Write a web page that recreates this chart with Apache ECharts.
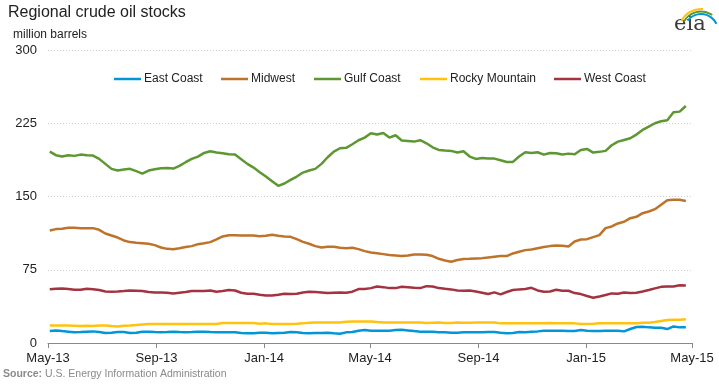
<!DOCTYPE html>
<html>
<head>
<meta charset="utf-8">
<script src="https://cdn.jsdelivr.net/npm/echarts@6/dist/echarts.min.js"></script>
<style>
html,body{margin:0;padding:0;background:#fff;}
#chart{width:719px;height:385px;}
</style>
</head>
<body>
<div id="chart"></div>
<script>
// ---- data ----
var seriesNames = ['East Coast', 'Midwest', 'Gulf Coast', 'Rocky Mountain', 'West Coast'];
var firstWeek = '2013-05-03'; // weekly observations (Fridays)
var tickDates = ['2013-05-01', '2013-09-01', '2014-01-01', '2014-05-01', '2014-09-01', '2015-01-01', '2015-05-01'];
var tickLabels = ['May-13', 'Sep-13', 'Jan-14', 'May-14', 'Sep-14', 'Jan-15', 'May-15'];
var yTicks = [0, 75, 150, 225, 300];

var eastCoast = [12.2,12.9,12.2,11.6,10.9,11.2,11.6,11.9,11.2,10.2,
  10.5,11.2,11.2,10.2,10.5,11.6,11.6,11.2,10.9,11.2,
  11.6,11.2,10.9,11.2,11.6,11.6,11.2,10.9,10.9,10.9,
  10.9,10.2,9.9,9.9,10.5,10.5,9.9,10.2,10.5,11.2,
  10.9,10.2,9.9,10.2,10.2,10.5,9.9,9.5,10.9,11.2,
  12.6,13.3,12.6,12.6,12.6,12.6,13.3,13.6,12.9,12.2,
  11.6,11.6,11.6,10.9,10.9,10.5,10.5,10.9,10.9,10.9,
  10.9,11.2,11.2,10.5,9.9,10.2,11.2,10.9,11.6,11.9,
  12.6,12.6,12.6,12.6,12.2,12.2,13.3,12.6,12.2,12.2,
  12.6,12.6,12.6,11.9,14.3,16.4,16.7,16.0,15.7,15.7,
  14.3,17.0,16.0,16.0];
var midwest = [115.2,116.6,116.9,117.9,117.9,117.6,117.6,117.6,115.9,112.1,
  110.1,108.0,105.0,103.3,102.6,102.2,101.6,100.2,97.8,96.4,
  96.1,97.1,98.2,99.2,101.2,102.2,103.3,106.0,109.1,110.4,
  110.4,110.1,110.1,110.1,109.4,109.8,110.8,109.8,109.1,108.7,
  106.3,103.6,101.6,99.2,97.8,98.5,98.5,97.5,97.1,97.5,
  96.1,94.1,92.7,92.0,91.0,90.0,89.6,89.0,89.6,90.6,
  90.6,90.3,89.0,86.2,84.5,83.2,84.9,85.9,86.2,86.6,
  86.9,87.6,88.3,89.0,89.0,91.7,93.4,95.1,95.8,97.1,
  98.2,99.2,99.9,99.5,98.8,103.9,106.0,106.3,108.4,110.4,
  117.6,119.3,122.4,124.1,127.8,129.2,132.9,134.6,137.0,141.5,
  146.2,146.6,146.6,145.5];
var gulfCoast = [196.0,192.3,190.9,192.3,191.6,192.9,192.3,191.9,188.5,183.4,
  178.3,176.6,177.6,178.3,175.9,173.5,176.6,177.9,179.0,179.3,
  178.6,181.3,185.1,188.5,190.9,194.6,196.3,195.0,194.3,193.3,
  193.0,188.2,183.4,179.6,174.9,170.4,165.7,160.9,163.3,167.0,
  170.4,174.5,176.6,178.3,183.4,190.2,196.0,199.4,199.8,203.5,
  207.6,210.3,214.8,213.4,215.1,210.3,212.7,207.3,206.9,206.2,
  207.6,204.5,200.4,197.7,197.0,196.7,195.0,196.3,190.9,188.5,
  189.5,188.8,188.8,187.1,185.4,185.4,190.9,195.3,194.6,195.3,
  192.9,194.6,194.3,193.0,193.9,193.3,197.7,198.7,195.0,195.7,
  196.7,202.5,206.2,207.9,209.6,213.4,218.2,221.6,225.0,227.0,
  228.1,236.2,236.9,242.7];
var rockyMountain = [18.0,18.0,18.0,18.0,17.7,17.4,17.7,17.4,18.0,18.0,
  17.4,17.0,17.7,18.0,18.4,19.0,19.4,19.4,19.4,19.4,
  19.4,19.4,19.4,19.4,19.4,19.4,19.4,19.4,20.4,20.4,
  20.4,20.4,20.4,20.4,19.7,20.1,19.4,19.4,19.4,19.4,
  19.7,20.1,20.8,21.1,21.1,21.1,21.1,21.1,21.8,22.1,
  22.1,22.1,22.1,21.4,21.1,21.1,21.1,21.1,21.1,21.1,
  21.1,20.4,20.8,21.1,20.4,20.4,21.1,20.8,20.8,21.1,
  21.1,21.1,21.1,20.1,20.1,20.1,20.1,20.1,20.1,20.1,
  20.1,20.4,20.1,20.1,20.1,20.1,19.4,19.4,19.7,20.1,
  20.1,20.1,20.1,20.1,20.1,20.1,20.8,20.8,21.4,22.5,
  23.5,23.8,23.8,24.2];
var westCoast = [55.1,55.5,55.9,55.2,54.5,54.5,55.5,55.1,54.2,52.8,
  52.5,52.8,53.2,53.8,53.5,53.2,52.2,51.8,51.8,51.5,
  50.8,51.5,52.2,53.2,53.2,53.2,53.8,52.5,53.2,54.2,
  53.8,51.5,50.4,50.4,49.4,48.7,48.7,49.4,50.4,50.1,
  50.4,51.8,52.5,52.2,51.8,51.1,51.5,51.8,51.5,52.5,
  55.2,55.2,56.2,57.9,57.2,56.2,56.2,57.5,57.2,56.5,
  56.2,58.2,57.9,56.2,55.5,54.9,53.8,53.5,53.8,52.8,
  51.5,50.1,51.8,49.8,52.2,54.2,54.9,55.2,56.5,53.8,
  52.5,52.8,54.5,53.5,53.5,51.1,50.1,48.1,46.4,47.7,
  49.1,50.8,50.4,51.8,51.1,51.5,52.8,54.2,55.9,57.5,
  57.9,57.9,59.2,58.8];

var seriesValues = [eastCoast, midwest, gulfCoast, rockyMountain, westCoast];
var colors = ['#0096d7', '#bd732a', '#5d9732', '#ffc20e', '#a33340'];

// ---- build ----
var WEEK = 7 * 86400000;
var t0 = Date.parse(firstWeek);
var tickTs = tickDates.map(function (d) { return Date.parse(d); });
function labelFor(v) {
  for (var i = 0; i < tickTs.length; i++) {
    if (Math.abs(tickTs[i] - v) < 43200000) return tickLabels[i];
  }
  return '';
}
var font = 'Arial, "Liberation Sans", Helvetica, sans-serif';
var legendLeft = [114, 221, 314, 420, 554];

var chart = echarts.init(document.getElementById('chart'), null, { renderer: 'canvas' });
var option = {
  animation: false,
  color: colors,
  textStyle: { fontFamily: font },
  grid: { left: 48, right: 27, top: 50, bottom: 42, containLabel: false },
  legend: seriesNames.map(function (n, i) {
    return {
      data: [n], left: legendLeft[i], top: 73, icon: 'rect',
      itemWidth: 27, itemHeight: 2.5, padding: 0,
      selectedMode: false,
      textStyle: { fontSize: 12, color: '#222', fontFamily: font, padding: [0, 0, 0, -2] }
    };
  }),
  xAxis: {
    type: 'value',
    min: tickTs[0], max: tickTs[tickTs.length - 1],
    axisLine: { show: true, lineStyle: { color: '#888', width: 1 } },
    axisTick: { show: true, length: 5, lineStyle: { color: '#888' }, customValues: tickTs },
    axisLabel: {
      customValues: tickTs, formatter: labelFor, showMinLabel: true, showMaxLabel: true,
      color: '#222', fontSize: 13, margin: 9, fontFamily: font
    },
    splitLine: { show: false }
  },
  yAxis: {
    type: 'value', min: yTicks[0], max: yTicks[yTicks.length - 1], interval: 75,
    axisLine: { show: false }, axisTick: { show: false },
    axisLabel: { color: '#222', fontSize: 13, margin: 11, fontFamily: font },
    splitLine: { show: true, lineStyle: { color: '#cfcfd6', type: [1, 2], width: 1 } }
  },
  series: seriesNames.map(function (n, i) {
    return {
      name: n, type: 'line', showSymbol: false, symbol: 'none',
      lineStyle: { width: 2.5, color: colors[i] },
      data: seriesValues[i].map(function (v, k) { return [t0 + k * WEEK, v]; })
    };
  }),
  graphic: [
    { type: 'text', left: 8, top: 5, style: { text: 'Regional crude oil stocks', fill: '#222', font: '16px ' + font } },
    { type: 'text', left: 13, top: 29, style: { text: 'million barrels', fill: '#222', font: '12px ' + font } },
    { type: 'text', left: 3, top: 369, style: {
        text: '{b|Source:} U.S. Energy Information Administration',
        fill: '#8a8a8a', font: '10.5px ' + font,
        rich: { b: { fontWeight: 'bold', fill: '#8a8a8a', fontSize: 10.5, fontFamily: font } }
      } },
    { type: 'text', left: 674, top: 14, style: { text: 'eia', fill: '#3a3a3a', font: '21px "DejaVu Serif", Georgia, serif' } },
    { type: 'arc', shape: { cx: 701, cy: 31, r: 22, startAngle: 208 * Math.PI / 180, endAngle: 275 * Math.PI / 180 },
      style: { stroke: '#ffc20e', lineWidth: 2, fill: null } },
    { type: 'arc', shape: { cx: 701, cy: 31, r: 19.5, startAngle: 208 * Math.PI / 180, endAngle: 305 * Math.PI / 180 },
      style: { stroke: '#5d9732', lineWidth: 2, fill: null } },
    { type: 'arc', shape: { cx: 701, cy: 31, r: 17, startAngle: 218 * Math.PI / 180, endAngle: 335 * Math.PI / 180 },
      style: { stroke: '#0096d7', lineWidth: 2, fill: null } }
  ]
};
chart.setOption(option);
</script>
</body>
</html>
